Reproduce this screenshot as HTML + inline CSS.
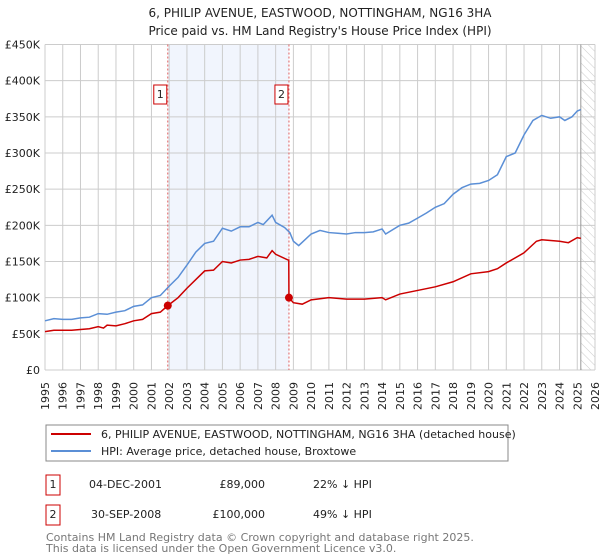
<!DOCTYPE html>
<html><head><meta charset="utf-8"><style>
body{margin:0;background:#fff;font-family:"Liberation Sans","DejaVu Sans",sans-serif;}
svg{display:block}
text{font-family:"DejaVu Sans","Liberation Sans",sans-serif;}
</style></head><body>
<svg id="chart" width="600" height="560">
<defs><pattern id="hatch" width="6" height="6" patternUnits="userSpaceOnUse" patternTransform="rotate(-45)"><line x1="0" y1="0" x2="0" y2="6" stroke="#ccc" stroke-width="1"/></pattern></defs>
<text x="320" y="17" font-size="12" text-anchor="middle" fill="#222">6, PHILIP AVENUE, EASTWOOD, NOTTINGHAM, NG16 3HA</text>
<text x="320" y="35" font-size="12" text-anchor="middle" fill="#222">Price paid vs. HM Land Registry's House Price Index (HPI)</text>
<g id="plot"></g>
<g>
<rect x="46" y="425" width="462" height="36" fill="#fff" stroke="#888"/>
<line x1="51" y1="434" x2="91" y2="434" stroke="#cc0000" stroke-width="2"/>
<text x="101" y="438" font-size="11" fill="#222">6, PHILIP AVENUE, EASTWOOD, NOTTINGHAM, NG16 3HA (detached house)</text>
<line x1="51" y1="451" x2="91" y2="451" stroke="#5b8fd6" stroke-width="2"/>
<text x="101" y="455" font-size="11" fill="#222">HPI: Average price, detached house, Broxtowe</text>
</g>
<g font-size="11" fill="#222">
<rect x="46" y="475" width="14" height="20" fill="#fff" stroke="#cc0000"/><text x="53" y="488" text-anchor="middle">1</text>
<text x="89" y="488">04-DEC-2001</text><text x="265" y="488" text-anchor="end">£89,000</text><text x="313" y="488">22% ↓ HPI</text>
<rect x="46" y="505" width="14" height="20" fill="#fff" stroke="#cc0000"/><text x="53" y="518" text-anchor="middle">2</text>
<text x="91" y="518">30-SEP-2008</text><text x="265" y="518" text-anchor="end">£100,000</text><text x="313" y="518">49% ↓ HPI</text>
</g>
<text x="46" y="541" font-size="11" fill="#777">Contains HM Land Registry data © Crown copyright and database right 2025.</text>
<text x="46" y="552" font-size="11" fill="#777">This data is licensed under the Open Government Licence v3.0.</text>
</svg>
<script>
const hpiYears=[1995,1995.5,1996,1996.5,1997,1997.5,1998,1998.5,1999,1999.5,2000,2000.5,2001,2001.5,2002,2002.5,2003,2003.5,2004,2004.5,2005,2005.5,2006,2006.5,2007,2007.3,2007.8,2008,2008.5,2008.8,2009,2009.3,2010,2010.5,2011,2011.5,2012,2012.5,2013,2013.5,2014,2014.2,2015,2015.5,2016,2016.5,2017,2017.5,2018,2018.5,2019,2019.5,2020,2020.5,2021,2021.5,2022,2022.5,2023,2023.5,2024,2024.3,2024.7,2025,2025.2];
const hpiValues=[68,71,70,70,72,73,78,77,80,82,88,90,100,103,116,128,145,163,175,178,196,192,198,198,204,201,214,204,197,190,178,172,188,193,190,189,188,190,190,191,195,188,200,203,210,217,225,230,243,252,257,258,262,270,295,300,325,345,352,348,350,345,350,358,360];
const ppYears=[1995,1995.5,1996,1996.5,1997,1997.5,1998,1998.3,1998.5,1999,1999.5,2000,2000.5,2001,2001.5,2001.92,2002.5,2003,2003.5,2004,2004.5,2005,2005.5,2006,2006.5,2007,2007.5,2007.8,2008,2008.7,2008.74,2008.75,2009,2009.5,2010,2011,2012,2013,2014,2014.2,2015,2016,2017,2018,2019,2020,2020.5,2021,2022,2022.7,2023,2024,2024.5,2025,2025.2];
const ppValues=[53,55,55,55,56,57,60,58,62,61,64,68,70,78,80,89,100,113,125,137,138,150,148,152,153,157,155,165,160,152,152,100,93,91,97,100,98,98,100,97,105,110,115,122,133,136,140,148,162,178,180,178,176,183,182];
const sales=[{label:"1",year:2001.92,value:89},{label:"2",year:2008.75,value:100}];
const yTicks=[0,50,100,150,200,250,300,350,400,450];
const yTickLabels=["£0","£50K","£100K","£150K","£200K","£250K","£300K","£350K","£400K","£450K"];
const xTicks=[1995,1996,1997,1998,1999,2000,2001,2002,2003,2004,2005,2006,2007,2008,2009,2010,2011,2012,2013,2014,2015,2016,2017,2018,2019,2020,2021,2022,2023,2024,2025,2026];

const L=45,R=595,T=44.5,B=370;
const xs=y=>L+(y-1995)/(2026-1995)*(R-L);
const ys=v=>B-v/450*(B-T);
const NS="http://www.w3.org/2000/svg";
const g=document.getElementById('plot');
function mk(tag,attrs,parent){const e=document.createElementNS(NS,tag);for(const k in attrs)e.setAttribute(k,attrs[k]);(parent||g).appendChild(e);return e;}
let e;
e=mk('rect',{x:xs(2001.92),y:T,width:xs(2008.75)-xs(2001.92),height:B-T,fill:'#eef3fc',opacity:0.8});


e=mk('rect',{x:xs(2025.2),y:T,width:R-xs(2025.2),height:B-T,fill:'url(#hatch)'});


yTicks.forEach((v,i)=>{
 e=mk('line',{x1:L,x2:R,y1:ys(v),y2:ys(v),stroke:'#ccc','stroke-width':1});
 
 
 e=mk('text',{x:40,y:ys(v)+4,'font-size':11,'text-anchor':'end',fill:'#222'});e.textContent=yTickLabels[i];
 
 
});
xTicks.forEach(y=>{
 e=mk('line',{x1:xs(y),x2:xs(y),y1:T,y2:B,stroke:'#ccc','stroke-width':1});
 
 
 e=mk('text',{x:0,y:0,'font-size':11,'text-anchor':'end',fill:'#222',transform:`translate(${xs(y)+4},382) rotate(-90)`});e.textContent=y;
 
 
});
e=mk('line',{x1:xs(2025.2),x2:xs(2025.2),y1:T,y2:B,stroke:'#999','stroke-width':1});


sales.forEach(s=>{
 e=mk('line',{x1:xs(s.year),x2:xs(s.year),y1:T,y2:B,stroke:'#e06060','stroke-width':1,'stroke-dasharray':'2,2'});
 
 
 e=mk('rect',{x:xs(s.year)-14,y:85,width:13,height:19,fill:'#fff',stroke:'#cc0000'});
 
 
 e=mk('text',{x:xs(s.year)-7.5,y:98,'font-size':11,'text-anchor':'middle',fill:'#222'});e.textContent=s.label;
 
 
});
e=mk('polyline',{points:hpiYears.map((y,i)=>xs(y)+','+ys(hpiValues[i])).join(' '),fill:'none',stroke:'#5b8fd6','stroke-width':1.5});


e=mk('polyline',{points:ppYears.map((y,i)=>xs(y)+','+ys(ppValues[i])).join(' '),fill:'none',stroke:'#cc0000','stroke-width':1.5});


sales.forEach(s=>{
 e=mk('circle',{cx:xs(s.year),cy:ys(s.value),r:4,fill:'#cc0000'});
 
 
});
</script>
</body></html>
